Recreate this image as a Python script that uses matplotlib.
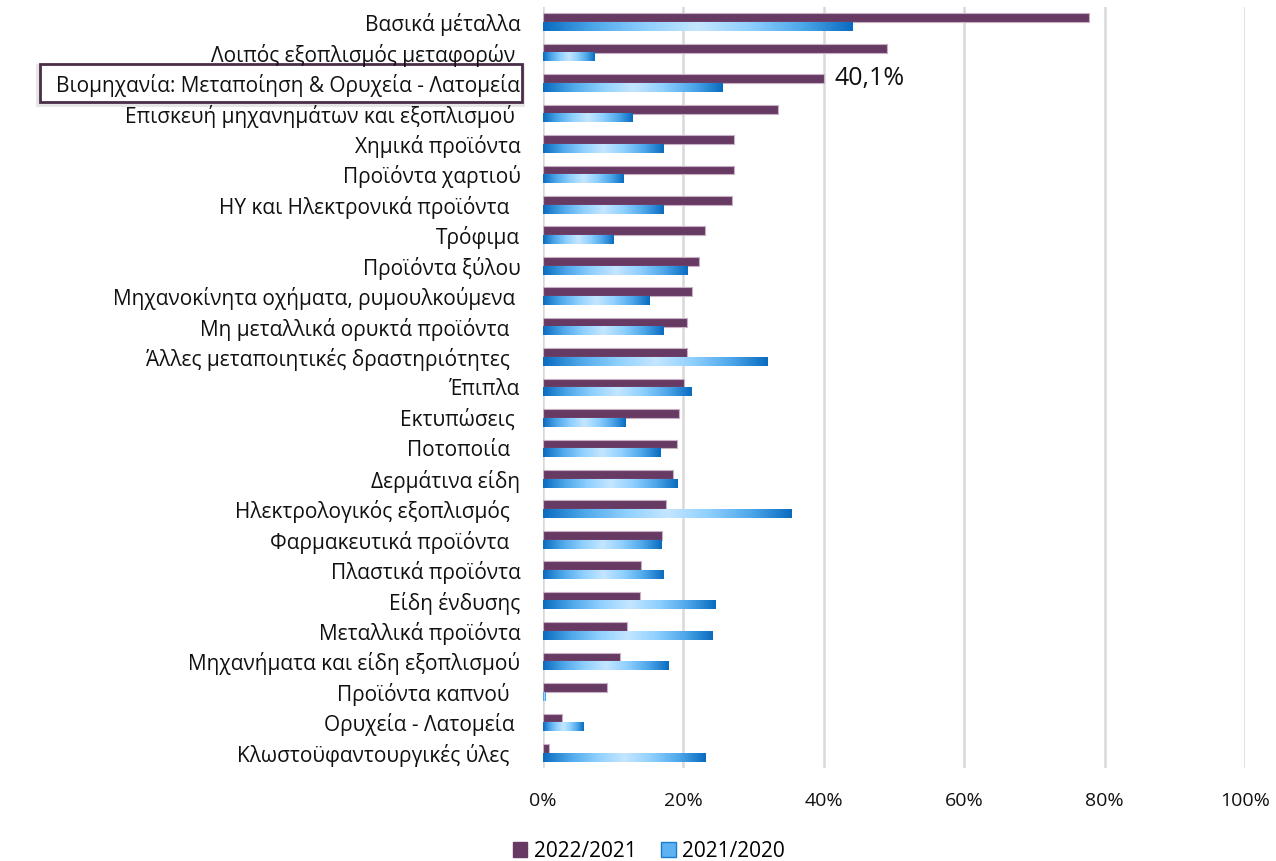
import numpy as np
import matplotlib.pyplot as plt
from matplotlib.colors import LinearSegmentedColormap
from matplotlib.patches import Rectangle, Patch

plt.rcParams['font.family'] = ['Open Sans', 'DejaVu Sans']

categories = ['Βασικά μέταλλα', 'Λοιπός εξοπλισμός μεταφορών ',
              'Βιομηχανία: Μεταποίηση & Ορυχεία - Λατομεία',
              'Επισκευή μηχανημάτων και εξοπλισμού ', 'Χημικά προϊόντα',
              'Προϊόντα χαρτιού', 'ΗΥ και Ηλεκτρονικά προϊόντα  ', 'Τρόφιμα',
              'Προϊόντα ξύλου', 'Μηχανοκίνητα οχήματα, ρυμουλκούμενα ',
              'Μη μεταλλικά ορυκτά προϊόντα  ', 'Άλλες μεταποιητικές δραστηριότητες  ',
              'Έπιπλα', 'Εκτυπώσεις ', 'Ποτοποιία  ', 'Δερμάτινα είδη',
              'Ηλεκτρολογικός εξοπλισμός  ', 'Φαρμακευτικά προϊόντα  ',
              'Πλαστικά προϊόντα', 'Είδη ένδυσης', 'Μεταλλικά προϊόντα',
              'Μηχανήματα και είδη εξοπλισμού', 'Προϊόντα καπνού  ',
              'Ορυχεία - Λατομεία ', 'Κλωστοϋφαντουργικές ύλες  ']

# % change 2022/2021
y22 = [77.8, 49.0, 40.1, 33.5, 27.3, 27.2, 26.9, 23.1, 22.3, 21.3, 20.6, 20.5,
       20.1, 19.4, 19.1, 18.5, 17.6, 17.0, 14.0, 13.9, 12.0, 11.0, 9.2, 2.7, 0.9]
# % change 2021/2020
y21 = [44.1, 7.4, 25.6, 12.7, 17.1, 11.5, 17.2, 10.0, 20.6, 15.1, 17.2, 32.0,
       21.1, 11.8, 16.8, 19.2, 35.4, 16.9, 17.2, 24.5, 24.2, 17.8, 0.4, 5.8, 23.1]

series = ['2022/2021', '2021/2020']
xticks = [0, 0.2, 0.4, 0.6, 0.8, 1.0]
xticklabels = ['0%', '20%', '40%', '60%', '80%', '100%']

purple = '#673A63'
blue_grad = LinearSegmentedColormap.from_list(
    'bg', ['#0A6CC0', '#4FA8EA', '#8FD0FF', '#C4E6FF', '#8FD0FF', '#4FA8EA', '#0A6CC0'])

n = len(categories)
y = np.arange(n)
h = 0.29

fig = plt.figure(figsize=(12.76, 8.61), dpi=100)
ax = fig.add_axes([0.4253, 0.108, 0.5504, 0.8839])

ax.barh(y - h / 2, np.array(y22) / 100, height=h, color=purple,
        edgecolor='#C7AFC4', linewidth=0.8, zorder=3)
blue_bars = ax.barh(y + h / 2, np.array(y21) / 100, height=h, color='none',
                    linewidth=0, zorder=3)

# horizontal dark-light-dark gradient inside every blue bar
grad = np.linspace(0, 1, 256).reshape(1, -1)
for b in blue_bars:
    x0, y0, w, hh = b.get_x(), b.get_y(), b.get_width(), b.get_height()
    ax.imshow(grad, cmap=blue_grad, aspect='auto', interpolation='bilinear',
              extent=[x0, x0 + w, y0 + hh, y0], zorder=3)

ax.text(0.416, 2 - h / 2, '40,1%', fontsize=18, va='center', ha='left', color='#111111')

ax.set_xlim(0, 1)
ax.set_ylim(n - 0.5, -0.5)
ax.set_xticks(xticks)
ax.set_xticklabels(xticklabels, fontsize=14)
ax.set_yticks(y)
ax.set_yticklabels(categories, fontsize=15)
ax.tick_params(axis='both', length=0, colors='#111111')
ax.tick_params(axis='y', pad=16)
ax.tick_params(axis='x', pad=17)
ax.xaxis.grid(True, color='#D9D9D9', linewidth=1.8, zorder=0)
ax.set_axisbelow(True)
for s in ax.spines.values():
    s.set_visible(False)

# highlight box round the total-industry label
W, H = 1276, 861
fig.add_artist(Rectangle((38 / W, 1 - 104 / H), 484 / W, 38 / H, transform=fig.transFigure,
                         facecolor='none', edgecolor='#CCCCCC', linewidth=3.5, alpha=0.5, zorder=-2))
fig.add_artist(Rectangle((40 / W, 1 - 102 / H), 482 / W, 38 / H, transform=fig.transFigure,
                         facecolor='white', edgecolor='#4A2D47', linewidth=2, zorder=-1))

handles = [Patch(facecolor=purple, edgecolor=purple),
           Patch(facecolor='#5DB3F2', edgecolor='#1A7BD0')]
fig.legend(handles, series, loc='center', bbox_to_anchor=(0.5086, 0.0116), ncol=2,
           frameon=False, fontsize=15, handlelength=0.7, handleheight=0.7,
           handletextpad=0.3, columnspacing=1.2)

fig.savefig('out.png', dpi=100)
